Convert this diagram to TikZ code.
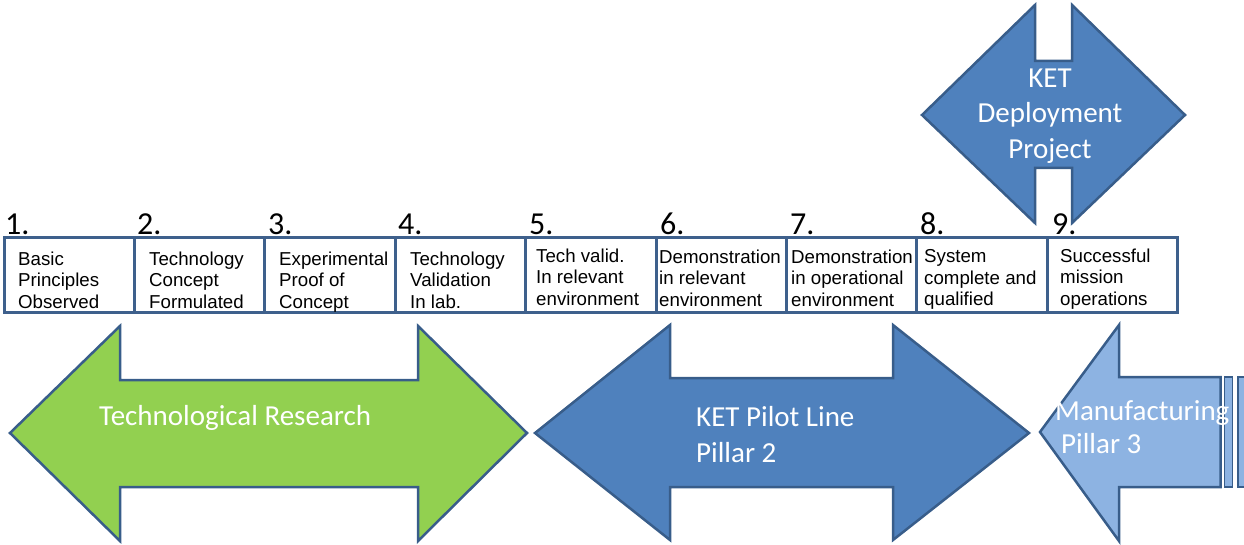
\documentclass[tikz,border=0pt]{standalone}
\usepackage{fontspec}
\setmainfont{Liberation Sans}
\newfontfamily\calfont{Carlito}
\definecolor{boxline}{RGB}{62,96,140}
\definecolor{arrline}{RGB}{56,93,138}
\definecolor{bluefill}{RGB}{79,129,189}
\definecolor{greenfill}{RGB}{146,208,80}
\definecolor{lightfill}{RGB}{141,179,226}
\tikzset{
  cell/.style={draw=boxline, line width=3pt, minimum width=130.4pt, minimum height=74pt, anchor=north west, inner sep=0pt, outer sep=0pt},
  celltext/.style={anchor=north west, inner sep=0pt, align=left, font=\fontsize{18.7}{21.5}\selectfont},
  num/.style={anchor=base west, inner sep=0pt, font=\calfont\fontsize{32}{32}\selectfont},
  arrowshape/.style={draw=arrline, line width=2.5pt, line join=miter},
  stripe/.style={draw=arrline, line width=1.8pt, fill=lightfill},
  lbl/.style={inner sep=0pt, text=white, font=\calfont\fontsize{29}{35.5}\selectfont}
}
\begin{document}
\begin{tikzpicture}[x=1pt,y=-1pt]
\useasboundingbox (0,0) rectangle (1244,545);
\clip (0,0) rectangle (1244,545);

% KET Deployment arrow
\draw[arrowshape, fill=bluefill] (1035,5) -- (1035,61) -- (1072,61) -- (1072,5) -- (1185,115) -- (1072,223) -- (1072,168) -- (1035,168) -- (1035,223) -- (922,115) -- cycle;
\node[lbl, anchor=north, align=center] (ketdep) at (1050,68.3) {KET\\Deployment\\Project};

% cells
\foreach \i in {0,...,8} {
  \node[cell] (c\i) at ({4+130.4*\i},238) {};
}
\node[num] (n1) at (5,235) {1.};
\node[num] (n2) at (137,235) {2.};
\node[num] (n3) at (268,235) {3.};
\node[num] (n4) at (398,235) {4.};
\node[num] (n5) at (529,235) {5.};
\node[num] (n6) at (660,235) {6.};
\node[num] (n7) at (790,235) {7.};
\node[num] (n8) at (920,235) {8.};
\node[num] (n9) at (1052,235) {9.};

\node[celltext] (t1) at (18,251.6) {Basic\\Principles\\Observed};
\node[celltext] (t2) at (149,251.6) {Technology\\Concept\\Formulated};
\node[celltext] (t3) at (279,251.6) {Experimental\\Proof of\\Concept};
\node[celltext] (t4) at (410,251.6) {Technology\\Validation\\In lab.};
\node[celltext] (t5) at (536,248.6) {Tech valid.\\In relevant\\environment};
\node[celltext] (t6) at (659,249.6) {Demonstration\\in relevant\\environment};
\node[celltext] (t7) at (791,249.6) {Demonstration\\in operational\\environment};
\node[celltext] (t8) at (924,249.6) {System\\complete and\\qualified};
\node[celltext] (t9) at (1060,248.6) {Successful\\mission\\operations};

% Technological research arrow
\draw[arrowshape, fill=greenfill] (10,433) -- (120,326) -- (120,380) -- (418,380) -- (418,326) -- (527,433) -- (418,541) -- (418,487) -- (120,487) -- (120,541) -- cycle;
\node[lbl, anchor=base west] (techres) at (99,425) {Technological Research};

% KET Pilot line arrow
\draw[arrowshape, fill=bluefill] (535,433) -- (670,325) -- (670,378) -- (893,378) -- (893,325) -- (1029,433) -- (893,540) -- (893,487) -- (670,487) -- (670,540) -- cycle;
\node[lbl, anchor=north west, align=left] (pilot) at (696,406.3) {KET Pilot Line\\Pillar 2};

% Manufacturing striped arrow
\draw[arrowshape, fill=lightfill] (1040,432) -- (1119,325) -- (1119,377) -- (1220.5,377) -- (1220.5,487) -- (1119,487) -- (1119,541) -- cycle;
\draw[stripe] (1224.5,377) rectangle (1232.5,487);
\draw[stripe] (1238,377) rectangle (1252,487);
\node[lbl, anchor=base west] (manu) at (1055,420) {Manufacturing};
\node[lbl, anchor=base west] (pil3) at (1061,453) {Pillar 3};
\end{tikzpicture}
\end{document}
